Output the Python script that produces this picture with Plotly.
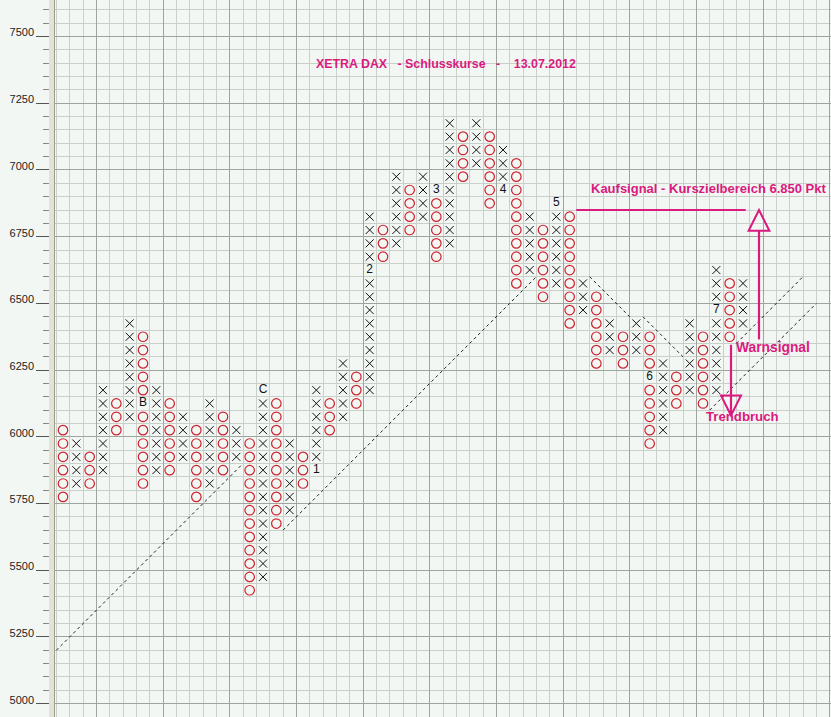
import plotly.graph_objects as go

BOX = 50

# Point & Figure columns (box value = lower edge of the box)
col_type = ['O', 'X'] * 26
col_low = [5750, 5800, 5800, 5850, 6000, 6050, 5800, 5850, 5850, 5900,
           5750, 5800, 5850, 5900, 5400, 5450, 5650, 5700, 5800, 5850,
           6000, 6050, 6100, 6150, 6650, 6700, 6750, 6800, 6650, 6700,
           6950, 7000, 6850, 6900, 6550, 6600, 6500, 6550, 6400, 6450,
           6250, 6300, 6250, 6300, 5950, 6000, 6100, 6150, 6100, 6150,
           6350, 6400]
col_high = [6000, 5950, 5900, 6150, 6100, 6400, 6350, 6150, 6100, 6050,
            6000, 6100, 6050, 6000, 5950, 6150, 6100, 5950, 5900, 6150,
            6100, 6250, 6200, 6800, 6750, 6950, 6900, 6950, 6900, 7150,
            7100, 7150, 7100, 7050, 7000, 6800, 6750, 6850, 6800, 6550,
            6500, 6400, 6350, 6400, 6350, 6250, 6200, 6400, 6350, 6600,
            6550, 6550]

# month markers replacing a box
label_col = [7, 16, 20, 24, 29, 34, 38, 45, 50]
label_val = [6100, 6150, 5850, 6600, 6900, 6900, 6850, 6200, 6450]
label_txt = ['B', 'C', '1', '2', '3', '4', '5', '6', '7']

# trend lines (column, price)
trend_lines = [((0.5, 5200), (14.5, 5900)),
               ((17.5, 5650), (36.5, 6600)),
               ((40.5, 6600), (43.5, 6450)),
               ((44.5, 6450), (47.5, 6300)),
               ((51.5, 6350), (56.5, 6600)),
               ((49.5, 6100), (57.5, 6500))]

target_price = 6850

BG = '#F3F7F3'
MAJ = '#9EA59E'
MIN = '#C9CFC9'
MAG = '#DA1A7F'
RED = '#D0202E'
FONT = 'Liberation Sans'

xs_x, ys_x, xs_o, ys_o = [], [], [], []
label_set = set(zip(label_col, label_val))
for i, (t, lo, hi) in enumerate(zip(col_type, col_low, col_high), start=1):
    for v in range(lo, hi + BOX, BOX):
        if (i, v) in label_set:
            continue
        if t == 'X':
            xs_x.append(i); ys_x.append(v + BOX / 2)
        else:
            xs_o.append(i); ys_o.append(v + BOX / 2)

fig = go.Figure()
fig.add_trace(go.Scatter(x=xs_x, y=ys_x, mode='markers', hoverinfo='skip',
                         marker=dict(symbol='x-thin-open', size=8, color='#111111',
                                     line=dict(width=1, color='#111111'))))
fig.add_trace(go.Scatter(x=xs_o, y=ys_o, mode='markers', hoverinfo='skip',
                         marker=dict(symbol='circle-open', size=9.5, color=RED,
                                     line=dict(width=1.2, color=RED))))
fig.add_trace(go.Scatter(x=label_col, y=[v + BOX / 2 for v in label_val], mode='text',
                         text=label_txt, hoverinfo='skip',
                         textfont=dict(family=FONT, size=12, color='#111111')))

shapes = []
for (x0, y0), (x1, y1) in trend_lines:
    shapes.append(dict(type='line', xref='x', yref='y', x0=x0, y0=y0, x1=x1, y1=y1,
                       line=dict(color='#222222', width=1, dash='3px,3px'), layer='between'))

# left axis strip
shapes.append(dict(type='rect', xref='paper', yref='paper', x0=-6 / 776, x1=-0.6 / 776,
                   y0=0, y1=1, fillcolor='#E4E2D5', line=dict(width=0), layer='above'))

# signal annotations
shapes.append(dict(type='line', xref='x', yref='y', x0=39.5, x1=52.2, y0=target_price, y1=target_price,
                   line=dict(color=MAG, width=2.2), layer='above'))
shapes.append(dict(type='line', xref='x', yref='y', x0=53.2, x1=53.2, y0=6365, y1=6772,
                   line=dict(color=MAG, width=2.2), layer='above'))
shapes.append(dict(type='path', xref='x', yref='y',
                   path=f'M 53.2 {target_price} L 52.42 6772 L 53.98 6772 Z',
                   line=dict(color=MAG, width=2), fillcolor='rgba(0,0,0,0)', layer='above'))
shapes.append(dict(type='line', xref='x', yref='y', x0=51.1, x1=51.1, y0=6345, y1=6085,
                   line=dict(color=MAG, width=2.2), layer='above'))
shapes.append(dict(type='path', xref='x', yref='y',
                   path='M 51.1 6080 L 50.35 6155 L 51.85 6155 Z',
                   line=dict(color=MAG, width=2), fillcolor='rgba(0,0,0,0)', layer='above'))

annotations = [
    dict(xref='paper', yref='paper', x=(445.5 - 55) / 776, y=1 - 64 / 717,
         text='<b>XETRA DAX\u00a0\u00a0 - Schlusskurse\u00a0\u00a0 -\u00a0\u00a0\u00a0 13.07.2012</b>',
         showarrow=False, font=dict(family=FONT, size=12.4, color=MAG),
         xanchor='center', yanchor='middle'),
    dict(xref='x', yref='y', x=40.45, y=6929,
         text='<b>Kaufsignal - Kurszielbereich 6.850 Pkt</b>',
         showarrow=False, font=dict(family=FONT, size=13, color=MAG),
         xanchor='left', yanchor='middle'),
    dict(xref='x', yref='y', x=51.35, y=6333, text='<b>Warnsignal</b>',
         showarrow=False, font=dict(family=FONT, size=13.8, color=MAG),
         xanchor='left', yanchor='middle'),
    dict(xref='x', yref='y', x=49.1, y=6075, text='<b>Trendbruch</b>',
         showarrow=False, font=dict(family=FONT, size=13.2, color=MAG),
         xanchor='left', yanchor='middle'),
]

fig.update_layout(
    width=831, height=717, margin=dict(l=55, r=0, t=0, b=0),
    plot_bgcolor=BG, paper_bgcolor=BG, showlegend=False,
    xaxis=dict(range=[0.4, 58.6], tick0=3.5, dtick=5, showgrid=True, gridcolor=MAJ,
               gridwidth=1, showticklabels=False, ticks='', zeroline=False,
               minor=dict(tick0=0.5, dtick=1, showgrid=True, gridcolor=MIN, gridwidth=1)),
    yaxis=dict(range=[4950, 7637], tick0=5000, dtick=250, showgrid=True, gridcolor=MAJ,
               gridwidth=1, ticks='outside', ticklen=17, tickcolor='#555555',
               tickfont=dict(family=FONT, size=11, color='#222222'), ticklabelshift=-4,
               showline=True, linecolor='#6E706A', linewidth=1.5, zeroline=False,
               minor=dict(tick0=5000, dtick=50, showgrid=True, gridcolor=MIN,
                          ticks='outside', ticklen=10, tickcolor='#888888')),
    shapes=shapes, annotations=annotations,
)

fig.write_html('out.html', config={'displayModeBar': False},
               post_script="document.body.style.margin='0';document.body.style.overflow='hidden';")
